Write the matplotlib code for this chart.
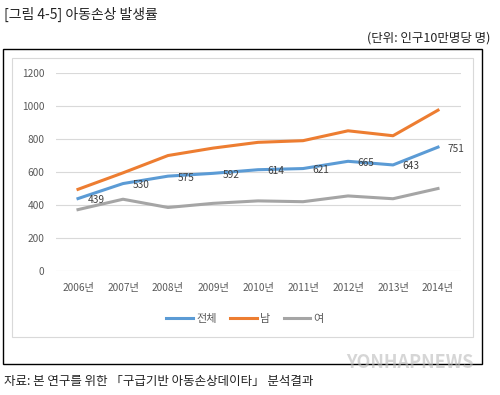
import matplotlib
matplotlib.use("Agg")
from matplotlib import pyplot as plt
from matplotlib.patches import Rectangle

plt.rcParams['font.family'] = ['Noto Sans CJK KR', 'DejaVu Sans']

years = ["2006년", "2007년", "2008년", "2009년", "2010년",
         "2011년", "2012년", "2013년", "2014년"]
total = [439, 530, 575, 592, 614, 621, 665, 643, 751]
male = [495, 595, 700, 745, 780, 790, 850, 820, 975]
female = [372, 435, 385, 410, 425, 420, 455, 438, 500]
series_names = ["전체", "남", "여"]

fig = plt.figure(figsize=(5, 3.95), dpi=100)
ax = fig.add_axes([0.111, 0.314, 0.81, 0.501])

x = range(len(years))
ax.plot(x, total, color="#5B9BD5", lw=2.2, label=series_names[0], zorder=3)
ax.plot(x, male, color="#ED7D31", lw=2.2, label=series_names[1], zorder=3)
ax.plot(x, female, color="#A5A5A5", lw=2.2, label=series_names[2], zorder=3)

for i, v in enumerate(total):
    ax.annotate(str(v), (i, v), xytext=(7, -1), textcoords="offset points",
                ha="left", va="center", fontsize=7.3, color="#404040")

ax.set_xlim(-0.5, len(years) - 0.5)
ax.set_ylim(0, 1200)
ax.set_yticks(range(0, 1201, 200))
ax.set_xticks(list(x))
ax.set_xticklabels(years)
ax.grid(axis="y", color="#D9D9D9", lw=0.8)
ax.set_axisbelow(True)
for s in ax.spines.values():
    s.set_visible(False)
ax.tick_params(length=0, labelsize=7.3, colors="#595959")
ax.tick_params(axis="x", pad=9)
ax.tick_params(axis="y", pad=8)

ax.legend(loc="center", bbox_to_anchor=(0.49, 1 - 319 / 395),
          bbox_transform=fig.transFigure, ncol=3, frameon=False,
          fontsize=8, handlelength=2.4, columnspacing=1.2,
          handletextpad=0.3, labelcolor="#595959")

# outer frame and chart area border
fig.patches.append(Rectangle((3 / 500, 1 - 364 / 395), 479 / 500, 315 / 395,
                             transform=fig.transFigure, fill=False,
                             ec="black", lw=1.0))
fig.patches.append(Rectangle((12 / 500, 1 - 337 / 395), 461 / 500, 279 / 395,
                             transform=fig.transFigure, fill=False,
                             ec="#D9D9D9", lw=0.8))

fig.text(4 / 500, 1 - 14 / 395, "[그림 4-5] 아동손상 발생률",
         fontsize=10, ha="left", va="center", color="#222222")
fig.text(490 / 500, 1 - 38 / 395, "(단위: 인구10만명당 명)",
         fontsize=9, ha="right", va="center", color="#222222")
fig.text(4 / 500, 1 - 382 / 395, "자료: 본 연구를 위한 「구급기반 아동손상데이타」 분석결과",
         fontsize=9, ha="left", va="center", color="#222222")
fig.text(410 / 500, 1 - 362 / 395, "YONHAPNEWS", fontsize=13,
         fontweight="bold", ha="center", va="center", color="#BBBBBB",
         alpha=0.6)

fig.savefig("out.png", dpi=100)
